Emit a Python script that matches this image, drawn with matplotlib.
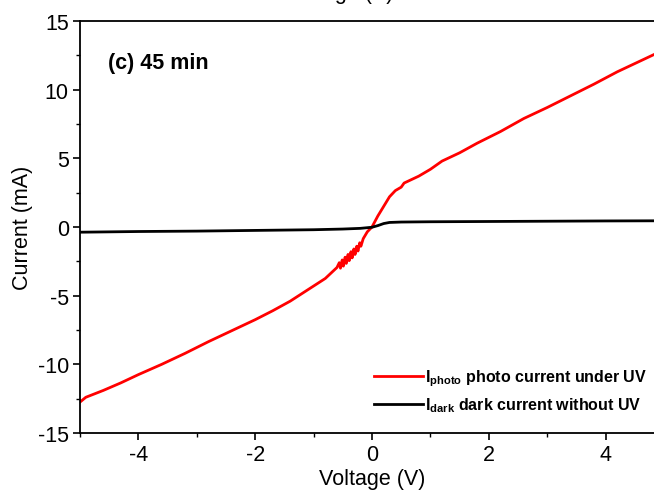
import matplotlib
matplotlib.use('Agg')
import matplotlib.pyplot as plt
from matplotlib.ticker import MultipleLocator

plt.rcParams['font.family'] = ['Liberation Sans', 'DejaVu Sans']
plt.rcParams['axes.unicode_minus'] = False
plt.rcParams['mathtext.fontset'] = 'custom'
plt.rcParams['mathtext.rm'] = 'Liberation Sans:bold'
plt.rcParams['mathtext.bf'] = 'Liberation Sans:bold'

# photo current (red)
v_photo = [-5.0, -4.9, -4.6, -4.3, -4.0, -3.6, -3.2, -2.8, -2.4, -2.0, -1.7, -1.4, -1.2, -1.0,
           -0.8, -0.7, -0.6, -0.56, -0.54, -0.51, -0.49, -0.46, -0.44, -0.41, -0.39, -0.36,
           -0.34, -0.31, -0.29, -0.26, -0.24, -0.21, -0.19, -0.15, -0.08, 0.0, 0.1, 0.2, 0.3,
           0.4, 0.5, 0.55, 0.6, 0.8, 1.0, 1.2, 1.5, 1.8, 2.2, 2.6, 3.0, 3.4, 3.8, 4.2, 4.6, 4.85]
i_photo = [-12.75, -12.4, -11.9, -11.35, -10.75, -10.0, -9.2, -8.35, -7.55, -6.75, -6.1, -5.4, -4.85, -4.3,
           -3.75, -3.35, -2.95, -2.6, -3.0, -2.4, -2.85, -2.2, -2.65, -2.0, -2.45, -1.8,
           -2.25, -1.6, -2.0, -1.4, -1.75, -1.15, -1.4, -0.85, -0.35, 0.0, 0.8, 1.5, 2.2,
           2.65, 2.9, 3.2, 3.3, 3.7, 4.2, 4.8, 5.4, 6.1, 6.95, 7.9, 8.7, 9.55, 10.4, 11.3, 12.1, 12.6]

# dark current (black)
v_dark = [-5.0, -4.0, -3.0, -2.0, -1.0, -0.5, -0.2, 0.0, 0.1, 0.2, 0.3, 0.5, 1.0, 2.0, 3.0, 4.0, 4.85]
i_dark = [-0.38, -0.33, -0.3, -0.25, -0.2, -0.15, -0.1, -0.02, 0.1, 0.25, 0.33, 0.36, 0.38, 0.4, 0.42, 0.44, 0.45]

fig = plt.figure(figsize=(6.54, 5.02), dpi=100)
ax = fig.add_axes([0.1223, 0.1355, 0.893, 0.8207])

ax.plot(v_photo, i_photo, color='#ff0000', lw=2.0, label=r'I$_{\mathregular{photo}}$ photo current under UV')
ax.plot(v_dark, i_dark, color='black', lw=2.0, label=r'I$_{\mathregular{dark}}$ dark current without UV')

ax.set_xlim(-5, 5)
ax.set_ylim(-15, 15)
ax.xaxis.set_major_locator(MultipleLocator(2))
ax.xaxis.set_minor_locator(MultipleLocator(1))
ax.yaxis.set_major_locator(MultipleLocator(5))
ax.yaxis.set_minor_locator(MultipleLocator(2.5))
ax.tick_params(which='major', direction='out', length=5, width=1.2, labelsize=15.5, pad=3)
ax.tick_params(which='minor', direction='out', length=3, width=1.0)
for s in ax.spines.values():
    s.set_linewidth(1.3)

ax.set_xlabel('Voltage (V)', fontsize=15.5, labelpad=2)
ax.set_ylabel('Current (mA)', fontsize=15.5, labelpad=3)

ax.text(0.048, 0.9, '(c) 45 min', transform=ax.transAxes, fontsize=15.5, fontweight='bold', va='center')

leg = ax.legend(loc='lower right', bbox_to_anchor=(0.995, 0.01), frameon=False,
                prop={'weight': 'bold', 'size': 11.5}, handlelength=3.1, handletextpad=0.1,
                labelspacing=0.5)

# cut-off label from the panel above
fig.text(0.52, 1.0 + 1 / 502, 'Voltage (V)', fontsize=15.5, ha='center', va='baseline')

fig.savefig('out.png', dpi=100)
